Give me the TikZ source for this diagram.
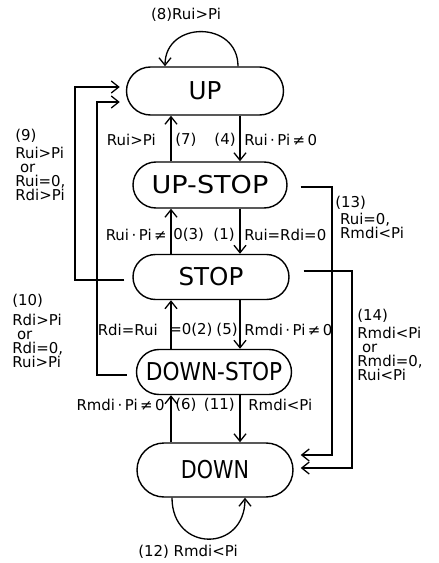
\documentclass[tikz,border=0pt]{standalone}
\usepackage{fontspec}
\setmainfont{DejaVu Sans}
\usetikzlibrary{shapes.misc, arrows.meta, positioning, calc}

\begin{document}
\begin{tikzpicture}[
    state/.style={rounded rectangle, draw, line width=0.8pt, minimum width=3.1cm, minimum height=0.92cm, inner sep=0pt, font=\fontsize{14}{14}\selectfont},
    arrow/.style={-{Straight Barb[length=1.5mm,width=2.4mm]}, line width=0.75pt},
    link/.style={arrow, shorten <=0.18cm, shorten >=0.12cm},
    msg/.style={font=\fontsize{8.5}{8}\selectfont, inner sep=0pt},
    cond/.style={msg, align=left, anchor=north west}
]
    \useasboundingbox (0,0) rectangle (8.78,-11.26);

    \node[state, minimum width=3.14cm, minimum height=0.96cm] (up) at (4.10,-1.82) {UP};
    \node[state, minimum width=3.08cm] (upstop) at (4.20,-3.70) {\scalebox{1.1}[1]{UP-STOP}};
    \node[state, minimum width=3.12cm, minimum height=0.90cm] (stop) at (4.22,-5.54) {STOP};
    \node[state, minimum height=0.90cm] (downstop) at (4.28,-7.44) {\scalebox{0.88}[1]{DOWN-STOP}};
    \node[state, minimum width=3.12cm, minimum height=1.08cm] (down) at (4.30,-9.40) {\scalebox{0.84}[1]{DOWN}};

    \coordinate (lx) at (3.42,0);
    \coordinate (rx) at (4.80,0);

    % transitions between neighbouring states
    \draw[arrow] (upstop.north -| lx) -- (up.south -| lx);
    \draw[arrow] (up.south -| rx) -- (upstop.north -| rx);
    \draw[arrow] (stop.north -| lx) -- (upstop.south -| lx);
    \draw[arrow] (upstop.south -| rx) -- (stop.north -| rx);
    \draw[arrow] (downstop.north -| lx) -- (stop.south -| lx);
    \draw[arrow] (stop.south -| rx) -- (downstop.north -| rx);
    \draw[arrow] (down.north -| lx) -- (downstop.south -| lx);
    \draw[arrow] (downstop.south -| rx) -- (down.north -| rx);

    \node[msg, anchor=east] (l7) at (3.12,-2.80) {Rui>Pi};
    \node[msg, anchor=west] (n7) at (3.50,-2.80) {(7)};
    \node[msg, anchor=east] (n4) at (4.72,-2.80) {(4)};
    \node[msg, anchor=west] (l4) at (4.88,-2.80) {Rui\,·\,Pi\,≠\,0};

    \node[msg, anchor=east] (l3a) at (3.34,-4.70) {Rui\,·\,Pi\,≠};
    \node[msg, anchor=west] (l3b) at (3.46,-4.70) {0(3)};
    \node[msg, anchor=east] (n1) at (4.70,-4.70) {(1)};
    \node[msg, anchor=west] (l1) at (4.88,-4.70) {Rui=Rdi=0};

    \node[msg, anchor=east] (l2a) at (3.16,-6.60) {Rdi=Rui};
    \node[msg, anchor=west] (l2b) at (3.38,-6.60) {=0(2)};
    \node[msg, anchor=east] (n5) at (4.76,-6.60) {(5)};
    \node[msg, anchor=west] (l5) at (4.88,-6.60) {Rmdi\,·\,Pi\,≠\,0};

    \node[msg, anchor=east] (l6) at (3.30,-8.10) {Rmdi\,·\,Pi\,≠\,0};
    \node[msg, anchor=west] (n6) at (3.50,-8.10) {(6)};
    \node[msg, anchor=east] (n11) at (4.70,-8.10) {(11)};
    \node[msg, anchor=west] (l11) at (4.96,-8.10) {Rmdi<Pi};

    % self loops
    \draw[arrow] ([xshift=0.66cm]up.north) .. controls +(0,0.92) and +(0,0.92) .. ([xshift=-0.80cm]up.north);
    \node[msg] (l8) at (3.72,-0.30) {(8)Rui>Pi};
    \draw[arrow] ([xshift=-0.86cm]down.south) .. controls +(0,-1.1) and +(0,-1.1) .. ([xshift=0.60cm]down.south);
    \node[msg] (l12) at (3.76,-11.04) {(12) Rmdi<Pi};

    % long jumps
    \coordinate (c9) at (1.50,-1.74);
    \coordinate (c10) at (1.94,-2.04);
    \coordinate (c13) at (6.64,-9.10);
    \coordinate (c14) at (7.04,-9.36);

    \draw[link, shorten <=0.16cm] ([yshift=-0.06cm]stop.west) -| (c9) -- (c9 -| up.west);
    \draw[link] ([yshift=-0.06cm]downstop.west) -| (c10) -- (c10 -| up.west);
    \draw[link, shorten <=0.26cm, shorten >=0.14cm] ([yshift=-0.04cm]upstop.east) -| (c13) -- (c13 -| down.east);
    \draw[link, shorten <=0.28cm, shorten >=0.14cm] ([yshift=0.12cm]stop.east) -| (c14) -- (c14 -| down.east);

    \node[cond] (l9) at (0.30,-2.58) {(9)\\[2pt] Rui>Pi\\ \ or\\ Rui=0,\\ Rdi>Pi};
    \node[cond] (l10) at (0.24,-5.88) {(10)\\[3pt] Rdi>Pi\\ \ or\\ Rdi=0,\\ Rui>Pi};
    \node[cond] (l13) at (6.70,-3.92) {(13)\\[1.5pt] \ Rui=0,\\ \ Rmdi<Pi};
    \node[cond] (l14) at (7.14,-6.18) {(14)\\[2pt] Rmdi<Pi\\ \ or\\ Rmdi=0,\\ Rui<Pi};
\end{tikzpicture}
\end{document}
